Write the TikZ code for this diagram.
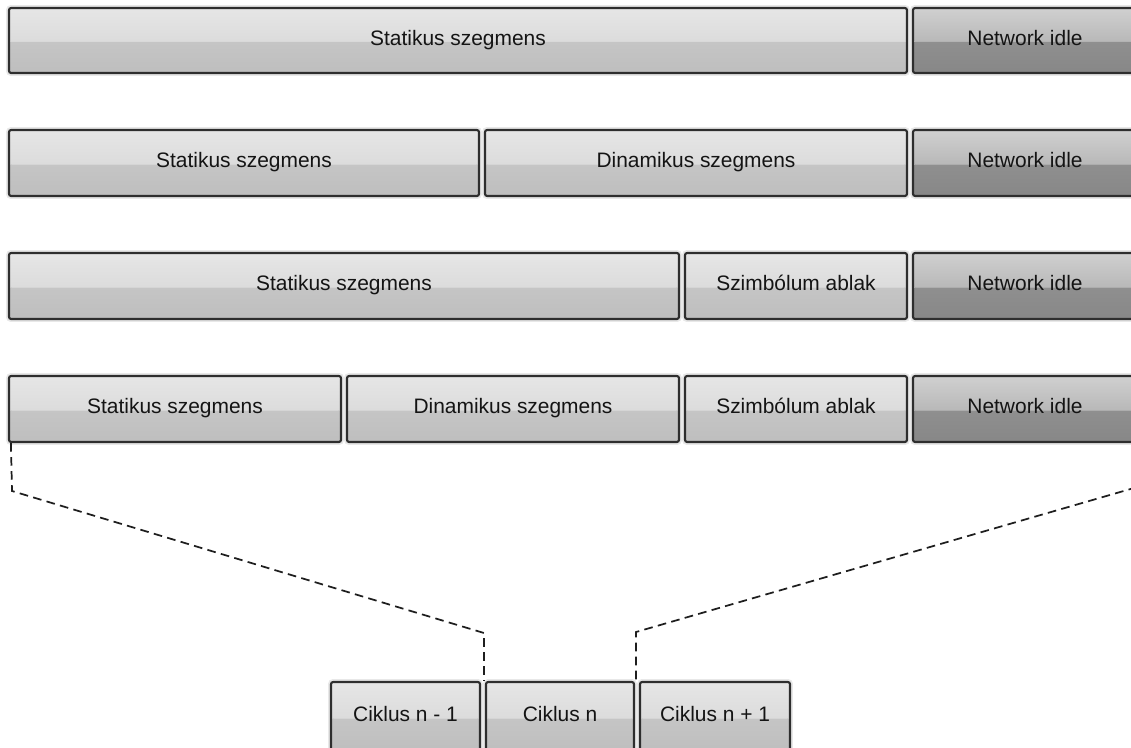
\documentclass[tikz,border=0pt]{standalone}
\usepackage{fontspec}
\setmainfont{Liberation Sans}
\definecolor{segedge}{HTML}{2E2E2E}
\definecolor{lightA}{HTML}{E6E6E6}
\definecolor{lightB}{HTML}{D2D2D2}
\definecolor{lightC}{HTML}{C5C5C5}
\definecolor{lightD}{HTML}{BEBEBE}
\definecolor{darkA}{HTML}{D0D0D0}
\definecolor{darkB}{HTML}{A2A2A2}
\definecolor{darkC}{HTML}{8F8F8F}
\definecolor{darkD}{HTML}{878787}
\definecolor{inktext}{HTML}{141414}
\definecolor{dashink}{HTML}{1E1E1E}

% Segment box: centre and size from the corner coordinates (in px units)
\newcommand\segbox[7]{%
  \pgfmathsetmacro\sbw{(#5-#3)*0.75}%
  \pgfmathsetmacro\sbh{(#6-#4)*0.75}%
  \node[#1, minimum width=\sbw pt, minimum height=\sbh pt] (#2) at ({(#3+#5)/2},{(#4+#6)/2}) {#7};%
}

\tikzset{
  segbase/.style={
    draw=segedge, line width=1.6pt, rounded corners=1.6pt,
    inner sep=0pt, text=inktext, font=\fontsize{15.7}{18}\selectfont,
    text height=0.716em, text depth=0pt,
    preaction={draw=black!9, line width=4.4pt}
  },
  lightseg/.style={segbase,
    path picture={
      \shade[top color=lightA, bottom color=lightB]
        (path picture bounding box.north west) rectangle ([yshift=-1pt]path picture bounding box.east);
      \shade[top color=lightC, bottom color=lightD]
        ([yshift=-1pt]path picture bounding box.west) rectangle (path picture bounding box.south east);
    }},
  darkseg/.style={segbase,
    path picture={
      \shade[top color=darkA, bottom color=darkB]
        (path picture bounding box.north west) rectangle ([yshift=-1pt]path picture bounding box.east);
      \shade[top color=darkC, bottom color=darkD]
        ([yshift=-1pt]path picture bounding box.west) rectangle (path picture bounding box.south east);
    }},
  zoomline/.style={draw=dashink, line width=1.3pt, dash pattern=on 6.5pt off 4pt}
}

\begin{document}
\begin{tikzpicture}[x=0.75pt, y=-0.75pt]
  \useasboundingbox (0,0) rectangle (1131,747);
  \clip (0,0) rectangle (1131,747);

  % Row 1
  \segbox{lightseg}{r1s}{9}{8}{907}{73}{Statikus szegmens}
  \segbox{darkseg}{r1n}{913}{8}{1137}{73}{Network idle}

  % Row 2
  \segbox{lightseg}{r2s}{9}{130}{479}{196}{Statikus szegmens}
  \segbox{lightseg}{r2d}{485}{130}{907}{196}{Dinamikus szegmens}
  \segbox{darkseg}{r2n}{913}{130}{1137}{196}{Network idle}

  % Row 3
  \segbox{lightseg}{r3s}{9}{253}{679}{319}{Statikus szegmens}
  \segbox{lightseg}{r3w}{685}{253}{907}{319}{Szimbólum ablak}
  \segbox{darkseg}{r3n}{913}{253}{1137}{319}{Network idle}

  % Row 4
  \segbox{lightseg}{r4s}{9}{376}{341}{442}{Statikus szegmens}
  \segbox{lightseg}{r4d}{347}{376}{679}{442}{Dinamikus szegmens}
  \segbox{lightseg}{r4w}{685}{376}{907}{442}{Szimbólum ablak}
  \segbox{darkseg}{r4n}{913}{376}{1137}{442}{Network idle}

  % Communication cycles
  \segbox{lightseg}{c1}{331}{682}{480}{752}{Ciklus n - 1}
  \segbox{lightseg}{c2}{486}{682}{634}{752}{Ciklus n}
  \segbox{lightseg}{c3}{640}{682}{790}{752}{Ciklus n + 1}

  % Zoom lines from the cycle to its segments
  \coordinate (lk) at (12,491);
  \coordinate (lb) at (484,633);
  \coordinate (rk) at (1134,488);
  \coordinate (rb) at (636,632);
  \draw[zoomline] ([xshift=2.25pt]r4s.south west) -- (lk) -- (lb) -- (lb |- c2.north);
  \draw[zoomline] ([xshift=-2.25pt]r4n.south east) -- (rk) -- (rb) -- (rb |- c2.north);
\end{tikzpicture}
\end{document}
